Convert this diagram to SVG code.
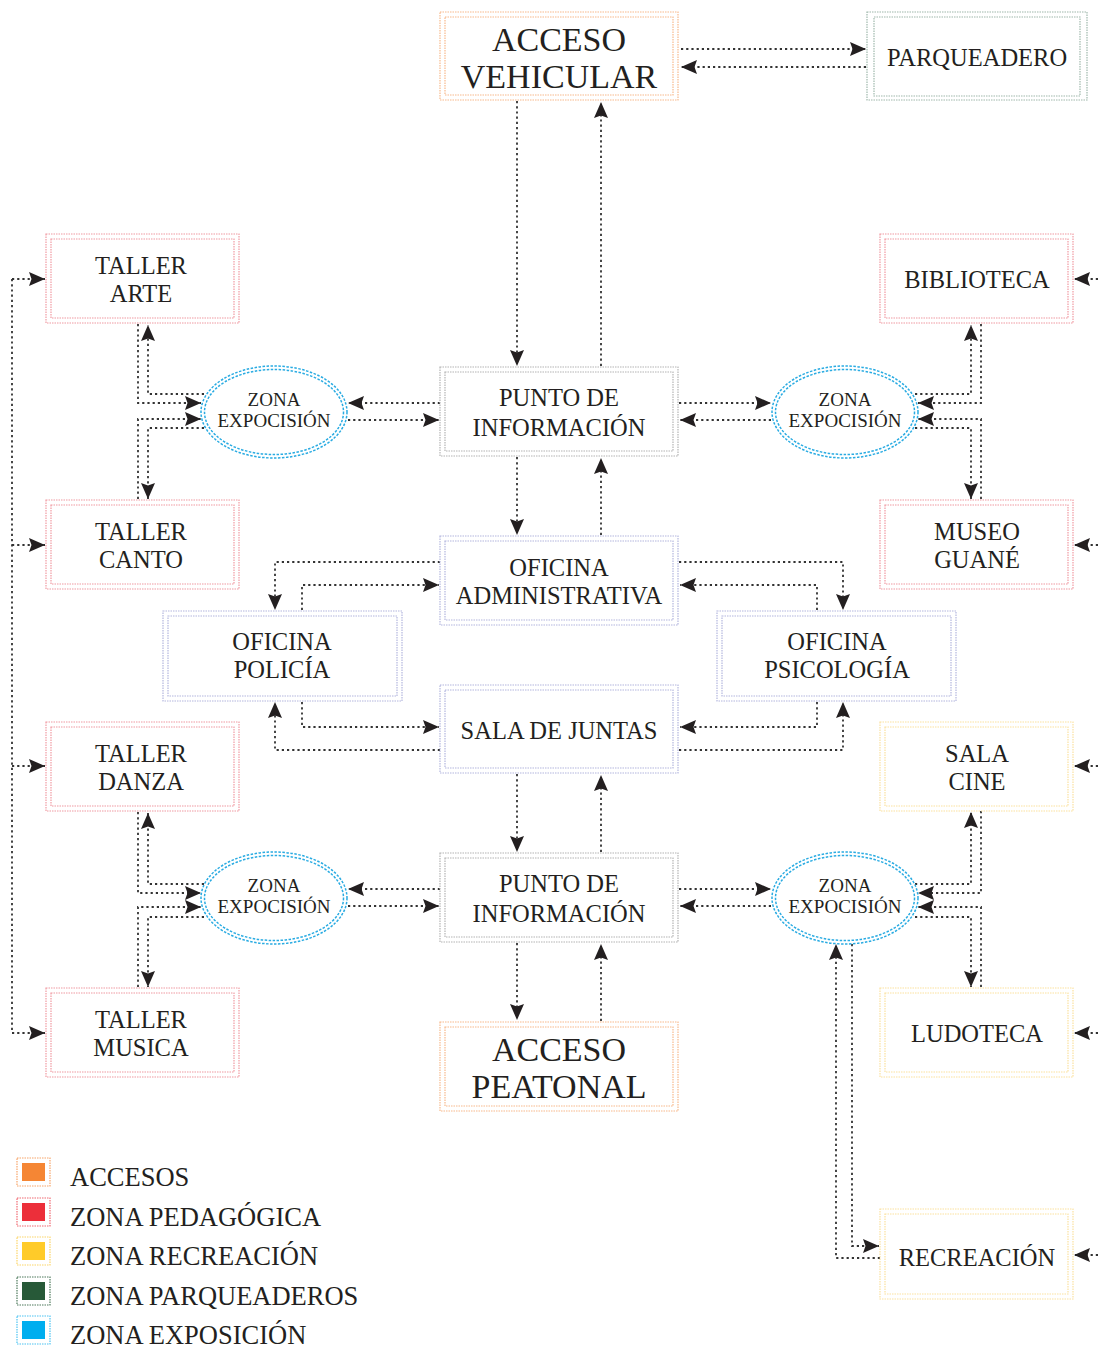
<svg xmlns="http://www.w3.org/2000/svg" width="1098" height="1349" viewBox="0 0 1098 1349">
<style>
  text { font-family: "Liberation Serif", "Times New Roman", serif; fill: #231f20; text-anchor: middle; }
  .big { font-size: 34px; }
  .lbl { font-size: 24.5px; }
  .sm { font-size: 19px; }
  .leg { font-size: 26.5px; text-anchor: start; }
  .box { fill: none; stroke-width: 1.2; stroke-dasharray: 1.5 1; }
  .acc { stroke: #f7b98c; }
  .ped { stroke: #f09aa2; }
  .rec { stroke: #fbe2a0; }
  .par { stroke: #9fb8ac; }
  .adm { stroke: #b3b6de; }
  .inf { stroke: #b4b4b4; }
  .exp { fill: none; stroke: #29abe2; stroke-width: 1.5; stroke-dasharray: 2.5 1.5; }
  .c { fill: none; stroke: #333; stroke-width: 1.8; stroke-dasharray: 2.2 3; }
  .a { marker-end: url(#ah); }
</style>
<defs>
  <marker id="ah" markerUnits="userSpaceOnUse" markerWidth="17" markerHeight="15" refX="16" refY="7" orient="auto">
    <path d="M0,0 L16,7 L0,14 L2.5,7 z" fill="#231f20"/>
  </marker>
</defs>

<g id="connectors">
  <path class="c a" d="M681,49 H866"/>
  <path class="c a" d="M866,67 H681"/>
  <path class="c a" d="M517,101 V366"/>
  <path class="c a" d="M601,366 V102"/>
  <path class="c a" d="M440,403 H348"/>
  <path class="c a" d="M348,420 H439"/>
  <path class="c a" d="M679,403 H771"/>
  <path class="c a" d="M771,420 H680"/>
  <path class="c a" d="M138,324 V403 H201"/>
  <path class="c a" d="M204,394 H148 V325"/>
  <path class="c a" d="M138,499 V419 H201"/>
  <path class="c a" d="M204,428 H148 V499"/>
  <path class="c a" d="M915,394 H971 V325"/>
  <path class="c a" d="M981,324 V403 H918"/>
  <path class="c a" d="M981,499 V419 H918"/>
  <path class="c a" d="M915,428 H971 V499"/>
  <path class="c a" d="M517,457 V535"/>
  <path class="c a" d="M601,535 V458"/>
  <path class="c a" d="M440,562 H275 V610"/>
  <path class="c a" d="M302,610 V585 H439"/>
  <path class="c a" d="M679,562 H843 V610"/>
  <path class="c a" d="M817,610 V585 H680"/>
  <path class="c a" d="M302,702 V727 H439"/>
  <path class="c a" d="M440,750 H275 V702"/>
  <path class="c a" d="M817,702 V727 H680"/>
  <path class="c a" d="M679,750 H843 V702"/>
  <path class="c a" d="M517,774 V852"/>
  <path class="c a" d="M601,852 V775"/>
  <path class="c a" d="M440,889 H348"/>
  <path class="c a" d="M348,906 H439"/>
  <path class="c a" d="M679,889 H771"/>
  <path class="c a" d="M771,906 H680"/>
  <path class="c a" d="M138,812 V893 H201"/>
  <path class="c a" d="M204,884 H148 V813"/>
  <path class="c a" d="M138,987 V907 H201"/>
  <path class="c a" d="M204,917 H148 V987"/>
  <path class="c a" d="M915,884 H971 V812"/>
  <path class="c a" d="M981,811 V893 H918"/>
  <path class="c a" d="M981,987 V907 H918"/>
  <path class="c a" d="M915,917 H971 V987"/>
  <path class="c a" d="M517,943 V1020"/>
  <path class="c a" d="M601,1021 V944"/>
  <path class="c a" d="M880,1258 H836 V944"/>
  <path class="c a" d="M852,944 V1246 H879"/>
  <path class="c" d="M12,279 V1033"/>
  <path class="c a" d="M12,279 H45"/>
  <path class="c a" d="M12,545 H45"/>
  <path class="c a" d="M12,766 H45"/>
  <path class="c a" d="M12,1033 H45"/>
  <path class="c a" d="M1098,279 H1074"/>
  <path class="c a" d="M1098,545 H1074"/>
  <path class="c a" d="M1098,766 H1074"/>
  <path class="c a" d="M1098,1033 H1074"/>
  <path class="c a" d="M1098,1255 H1074"/>
</g>

<g id="acceso-vehicular">
  <rect class="box acc" x="440" y="12" width="238" height="88"/>
  <rect class="box acc" x="445" y="17" width="228" height="78"/>
  <text class="big" x="559" y="51">ACCESO</text>
  <text class="big" x="559" y="88">VEHICULAR</text>
</g>
<g id="parqueadero">
  <rect class="box par" x="867" y="12" width="220" height="88"/>
  <rect class="box par" x="874" y="17" width="206" height="79"/>
  <text class="lbl" x="977" y="66">PARQUEADERO</text>
</g>
<g id="punto-informacion-1">
  <rect class="box inf" x="440" y="367" width="238" height="89"/>
  <rect class="box inf" x="445" y="372" width="228" height="79"/>
  <text class="lbl" x="559" y="406">PUNTO DE</text>
  <text class="lbl" x="559" y="436">INFORMACIÓN</text>
</g>
<g id="oficina-administrativa">
  <rect class="box adm" x="440" y="536" width="238" height="89"/>
  <rect class="box adm" x="445" y="541" width="228" height="79"/>
  <text class="lbl" x="559" y="576">OFICINA</text>
  <text class="lbl" x="559" y="604">ADMINISTRATIVA</text>
</g>
<g id="sala-juntas">
  <rect class="box adm" x="440" y="685" width="238" height="88"/>
  <rect class="box adm" x="445" y="690" width="228" height="78"/>
  <text class="lbl" x="559" y="739">SALA DE JUNTAS</text>
</g>
<g id="punto-informacion-2">
  <rect class="box inf" x="440" y="853" width="238" height="89"/>
  <rect class="box inf" x="445" y="858" width="228" height="79"/>
  <text class="lbl" x="559" y="892">PUNTO DE</text>
  <text class="lbl" x="559" y="922">INFORMACIÓN</text>
</g>
<g id="acceso-peatonal">
  <rect class="box acc" x="440" y="1022" width="238" height="89"/>
  <rect class="box acc" x="445" y="1027" width="228" height="79"/>
  <text class="big" x="559" y="1061">ACCESO</text>
  <text class="big" x="559" y="1098">PEATONAL</text>
</g>
<g id="oficina-policia">
  <rect class="box adm" x="163" y="611" width="239" height="90"/>
  <rect class="box adm" x="168" y="616" width="229" height="80"/>
  <text class="lbl" x="282" y="650">OFICINA</text>
  <text class="lbl" x="282" y="678">POLICÍA</text>
</g>
<g id="oficina-psicologia">
  <rect class="box adm" x="717" y="611" width="239" height="90"/>
  <rect class="box adm" x="722" y="616" width="229" height="80"/>
  <text class="lbl" x="837" y="650">OFICINA</text>
  <text class="lbl" x="837" y="678">PSICOLOGÍA</text>
</g>
<g id="taller-arte">
  <rect class="box ped" x="46" y="234" width="193" height="89"/>
  <rect class="box ped" x="51" y="239" width="183" height="79"/>
  <text class="lbl" x="141" y="274">TALLER</text>
  <text class="lbl" x="141" y="302">ARTE</text>
</g>
<g id="taller-canto">
  <rect class="box ped" x="46" y="500" width="193" height="89"/>
  <rect class="box ped" x="51" y="505" width="183" height="79"/>
  <text class="lbl" x="141" y="540">TALLER</text>
  <text class="lbl" x="141" y="568">CANTO</text>
</g>
<g id="taller-danza">
  <rect class="box ped" x="46" y="722" width="193" height="89"/>
  <rect class="box ped" x="51" y="727" width="183" height="79"/>
  <text class="lbl" x="141" y="762">TALLER</text>
  <text class="lbl" x="141" y="790">DANZA</text>
</g>
<g id="taller-musica">
  <rect class="box ped" x="46" y="988" width="193" height="89"/>
  <rect class="box ped" x="51" y="993" width="183" height="79"/>
  <text class="lbl" x="141" y="1028">TALLER</text>
  <text class="lbl" x="141" y="1056">MUSICA</text>
</g>
<g id="biblioteca">
  <rect class="box ped" x="880" y="234" width="193" height="89"/>
  <rect class="box ped" x="885" y="239" width="183" height="79"/>
  <text class="lbl" x="977" y="288">BIBLIOTECA</text>
</g>
<g id="museo-guane">
  <rect class="box ped" x="880" y="500" width="193" height="89"/>
  <rect class="box ped" x="885" y="505" width="183" height="79"/>
  <text class="lbl" x="977" y="540">MUSEO</text>
  <text class="lbl" x="977" y="568">GUANÉ</text>
</g>
<g id="sala-cine">
  <rect class="box rec" x="880" y="722" width="193" height="89"/>
  <rect class="box rec" x="885" y="727" width="183" height="79"/>
  <text class="lbl" x="977" y="762">SALA</text>
  <text class="lbl" x="977" y="790">CINE</text>
</g>
<g id="ludoteca">
  <rect class="box rec" x="880" y="988" width="193" height="89"/>
  <rect class="box rec" x="885" y="993" width="183" height="79"/>
  <text class="lbl" x="977" y="1042">LUDOTECA</text>
</g>
<g id="recreacion">
  <rect class="box rec" x="880" y="1209" width="193" height="90"/>
  <rect class="box rec" x="885" y="1214" width="183" height="80"/>
  <text class="lbl" x="977" y="1266">RECREACIÓN</text>
</g>
<g id="zona-exposicion-1">
  <ellipse class="exp" cx="274" cy="412" rx="73" ry="46"/>
  <ellipse class="exp" cx="274" cy="412" rx="69.5" ry="42.5"/>
  <text class="sm" x="274" y="406">ZONA</text>
  <text class="sm" x="274" y="427">EXPOCISIÓN</text>
</g>
<g id="zona-exposicion-2">
  <ellipse class="exp" cx="845" cy="412" rx="73" ry="46"/>
  <ellipse class="exp" cx="845" cy="412" rx="69.5" ry="42.5"/>
  <text class="sm" x="845" y="406">ZONA</text>
  <text class="sm" x="845" y="427">EXPOCISIÓN</text>
</g>
<g id="zona-exposicion-3">
  <ellipse class="exp" cx="274" cy="898" rx="73" ry="46"/>
  <ellipse class="exp" cx="274" cy="898" rx="69.5" ry="42.5"/>
  <text class="sm" x="274" y="892">ZONA</text>
  <text class="sm" x="274" y="913">EXPOCISIÓN</text>
</g>
<g id="zona-exposicion-4">
  <ellipse class="exp" cx="845" cy="898" rx="73" ry="46"/>
  <ellipse class="exp" cx="845" cy="898" rx="69.5" ry="42.5"/>
  <text class="sm" x="845" y="892">ZONA</text>
  <text class="sm" x="845" y="913">EXPOCISIÓN</text>
</g>

<g id="legend">
  <rect class="box" stroke="#f7a56a" x="17" y="1158" width="33" height="28"/>
  <rect x="22" y="1163" width="23" height="18" fill="#f58634"/>
  <text class="leg" x="70" y="1186">ACCESOS</text>
  <rect class="box" stroke="#f06a72" x="17" y="1198" width="33" height="28"/>
  <rect x="22" y="1203" width="23" height="18" fill="#ec2f3a"/>
  <text class="leg" x="70" y="1226">ZONA PEDAGÓGICA</text>
  <rect class="box" stroke="#fcd56a" x="17" y="1237" width="33" height="28"/>
  <rect x="22" y="1242" width="23" height="18" fill="#ffcb29"/>
  <text class="leg" x="70" y="1265">ZONA RECREACIÓN</text>
  <rect class="box" stroke="#4e7a5c" x="17" y="1277" width="33" height="28"/>
  <rect x="22" y="1282" width="23" height="18" fill="#275938"/>
  <text class="leg" x="70" y="1305">ZONA PARQUEADEROS</text>
  <rect class="box" stroke="#4cc4f2" x="17" y="1316" width="33" height="28"/>
  <rect x="22" y="1321" width="23" height="18" fill="#00aeef"/>
  <text class="leg" x="70" y="1344">ZONA EXPOSICIÓN</text>
</g>
</svg>
